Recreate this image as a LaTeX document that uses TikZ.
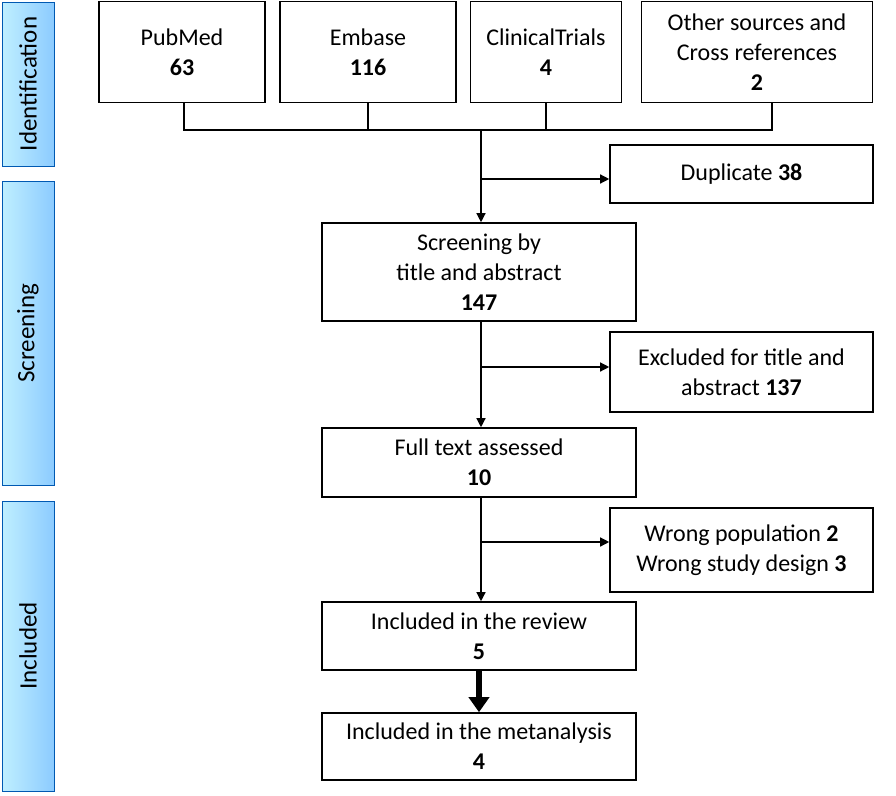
\documentclass[tikz,border=0pt]{standalone}
\usepackage{fontspec}
\setmainfont{Carlito}
\usetikzlibrary{arrows.meta}
\begin{document}
\begin{tikzpicture}[x=1pt,y=-1pt,
 box/.style={draw,line width=1.6pt,align=center,inner sep=2pt,font=\fontsize{24}{30}\selectfont},
 side/.style={draw=blue!50!cyan!70!black,line width=0.8pt,left color=blue!25!cyan!25,right color=blue!45!cyan!45},
 stxt/.style={rotate=90,font=\fontsize{25}{30}\selectfont},
 ln/.style={line width=1.3pt},
 arr/.style={ln,-{Triangle[length=9pt,width=9pt]}}]
\useasboundingbox (0,0) rectangle (896,795);
% side bars
\node[side,minimum width=52pt,minimum height=164pt] (s1) at (28,84) {};
\node[stxt] (t1) at (28,84) {Identification};
\node[side,minimum width=52pt,minimum height=304pt] (s2) at (28,333) {};
\node[stxt] (t2) at (28,333) {Screening};
\node[side,minimum width=52pt,minimum height=290pt] (s3) at (28,646) {};
\node[stxt] (t3) at (28,646) {Included};
% top boxes
\node[box,minimum width=166pt,minimum height=101pt] (pm) at (182,52) {PubMed\\\textbf{63}};
\node[box,minimum width=176pt,minimum height=101pt] (em) at (368,52) {Embase\\\textbf{116}};
\node[box,minimum width=151pt,minimum height=101pt] (ct) at (546,52) {ClinicalTrials\\\textbf{4}};
\node[box,minimum width=231pt,minimum height=101pt] (os) at (757,52) {Other sources and\\Cross references\\\textbf{2}};
\coordinate (hl) at (184,130);
\coordinate (hr) at (772,130);
\coordinate (hc) at (481,130);
\draw[ln] (pm.south -| hl) -- (hl) -- (hr) -- (os.south -| hr);
\draw[ln] (em.south) -- (em.south |- hl);
\draw[ln] (ct.south) -- (ct.south |- hl);
% main
\node[box,minimum width=314pt,minimum height=98pt] (sc) at (479,272) {Screening by\\title and abstract\\\textbf{147}};
\node[box,minimum width=314pt,minimum height=69pt] (ft) at (479,462.5) {Full text assessed\\\textbf{10}};
\node[box,minimum width=314pt,minimum height=68pt] (ir) at (479,636) {Included in the review\\\textbf{5}};
\node[box,minimum width=314pt,minimum height=67pt] (ma) at (479,746.5) {Included in the metanalysis\\\textbf{4}};
\node[box,minimum width=263pt,minimum height=58pt] (du) at (741.5,174) {Duplicate \textbf{38}};
\node[box,minimum width=263pt,minimum height=80pt] (ex) at (741.5,372) {Excluded for title and\\abstract \textbf{137}};
\node[box,minimum width=263pt,minimum height=84pt] (wr) at (741.5,550) {Wrong population \textbf{2}\\Wrong study design \textbf{3}};
\draw[arr] (hc) -- (hc |- sc.north);
\coordinate (b1) at (481,179);
\draw[arr] (b1) -- (b1 -| du.west);
\coordinate (b2) at (481,367);
\draw[ln] (b2 |- sc.south) -- (b2);
\draw[arr] (b2) -- (b2 -| ex.west);
\draw[arr] (b2) -- (b2 |- ft.north);
\coordinate (b3) at (481,542);
\draw[ln] (b3 |- ft.south) -- (b3);
\draw[arr] (b3) -- (b3 -| wr.west);
\draw[arr] (b3) -- (b3 |- ir.north);
\draw[line width=6pt,-{Triangle[length=15pt,width=20pt]}] (ir.south) -- (ma.north);
\end{tikzpicture}
\end{document}
